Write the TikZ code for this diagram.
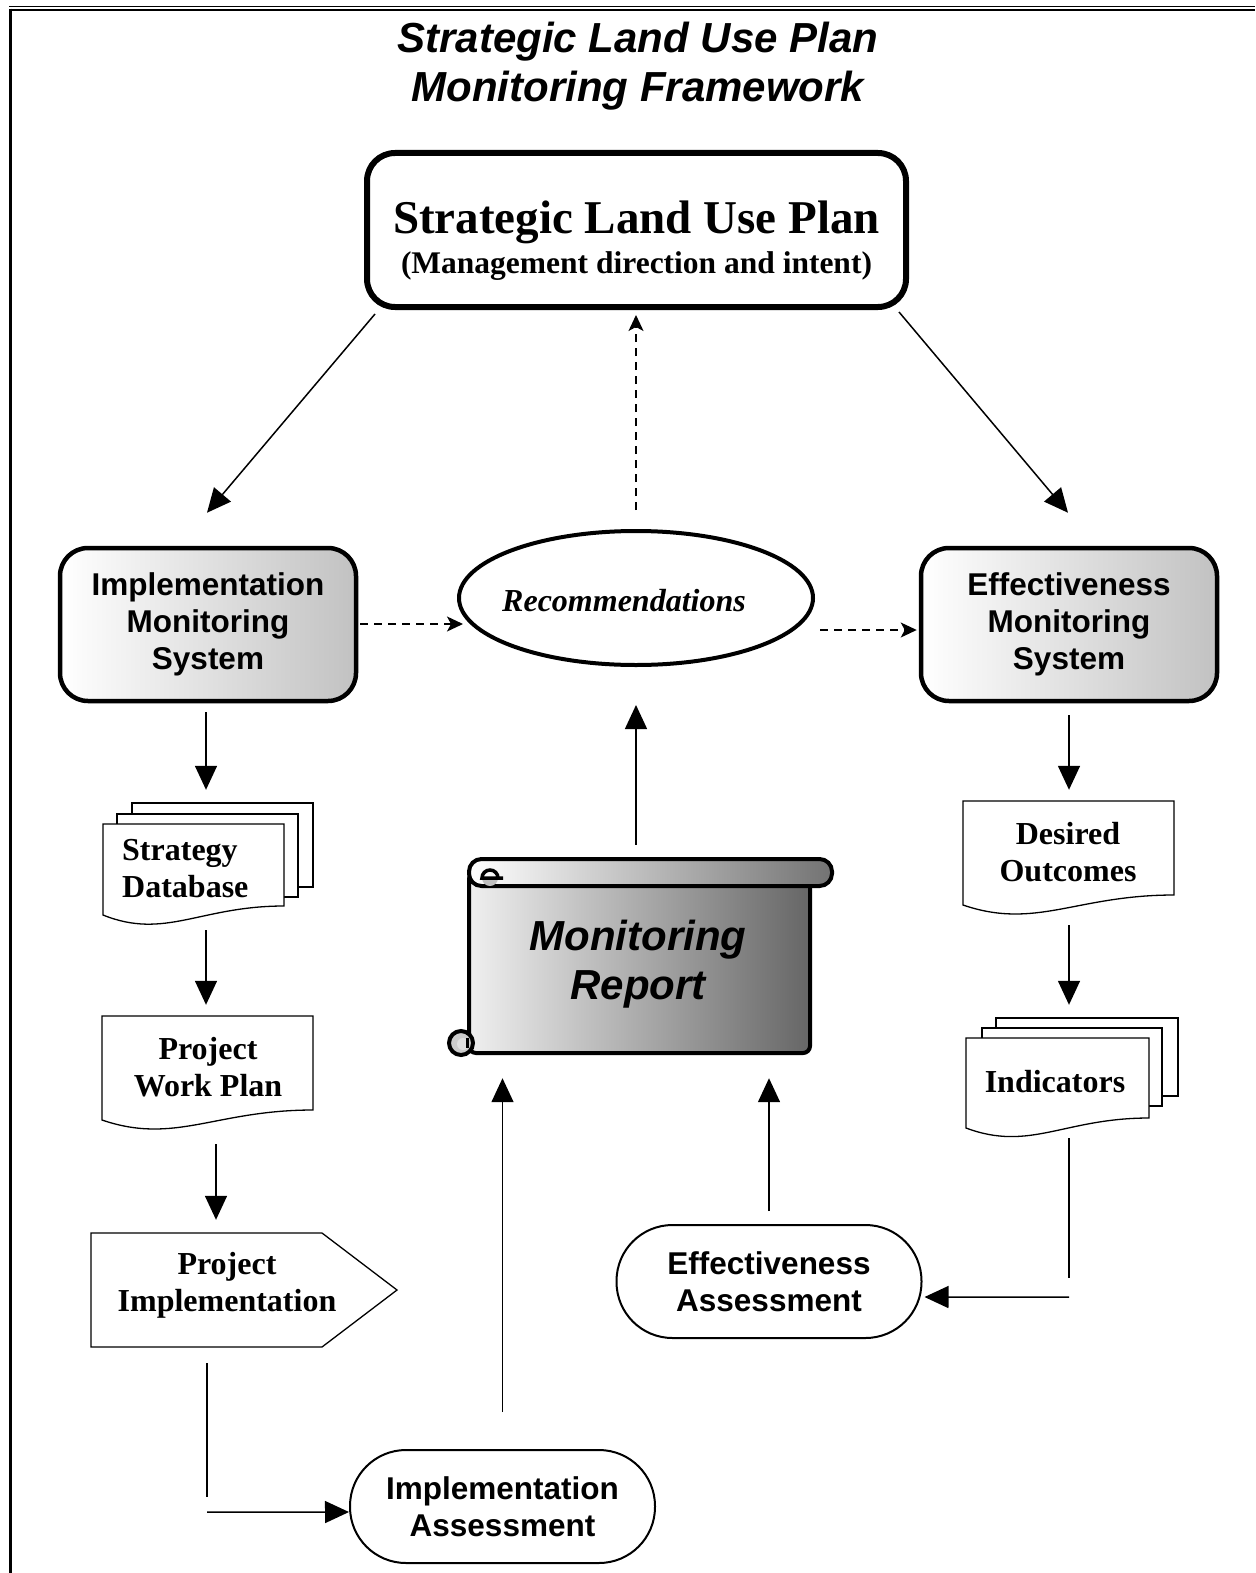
\documentclass[tikz,border=0pt]{standalone}
\usepackage{fontspec}
\setmainfont{Liberation Serif}
\setsansfont{Liberation Sans}
\usetikzlibrary{shapes.geometric,arrows.meta}
\newcommand\fsz[2]{\fontsize{#1}{#2}\selectfont}
\begin{document}
\begin{tikzpicture}[x=1pt,y=-1pt,
  line/.style={line width=1.5pt},
  tri/.style={line width=1.5pt,-{Triangle[length=24pt,width=22pt]}},
  dsh/.style={line width=1.4pt,dash pattern=on 8pt off 6pt,-{Stealth[length=16pt,width=15pt,inset=4pt]}},
  sysbox/.style={draw,rounded corners=28pt,line width=4.5pt,minimum width=296pt,minimum height=153pt,
     left color=white,right color=black!24,font=\sffamily\bfseries\fsz{31.5}{37},align=center,inner sep=0pt},
  assess/.style={draw,rounded corners=56pt,line width=2pt,minimum width=305pt,minimum height=113pt,
     fill=white,font=\sffamily\bfseries\fsz{31.5}{37},align=center,inner sep=0pt},
  area/.style={draw=none,inner sep=0pt},
  sertxt/.style={font=\bfseries\fsz{32}{37},align=center,inner sep=0pt},
  docline/.style={line width=1.3pt,fill=white},
]
\useasboundingbox (0,0) rectangle (1255,1573);
% frame
\draw[line width=1.7pt] (9,6.5) -- (1255,6.5);
\draw[line width=2.5pt] (9,10) -- (1255,10);
\draw[line width=3.3pt] (10.7,8.7) -- (10.7,1573);

% title
\node[font=\sffamily\bfseries\itshape\fsz{42}{49},align=center,inner sep=0pt] (title) at (638,66)
  {Strategic Land Use Plan\\Monitoring Framework};

% strategic land use plan box
\node[draw,rounded corners=28pt,line width=6pt,minimum width=539pt,minimum height=154pt,inner sep=0pt] (slup) at (636.5,230) {};
\node[font=\bfseries\fsz{47}{50},inner sep=0pt] (slupa) at (636.5,222) {Strategic Land Use Plan};
\node[font=\bfseries\fsz{31.5}{34},inner sep=0pt] (slupb) at (636.5,266) {(Management direction and intent)};

% systems
\node[sysbox] (ims) at (208,624.5) {Implementation\\Monitoring\\System};
\node[sysbox] (ems) at (1069,624.5) {Effectiveness\\Monitoring\\System};

% recommendations
\node[draw,ellipse,line width=4pt,minimum width=354pt,minimum height=134pt,inner sep=0pt] (rec) at (636,598) {};
\node[font=\bfseries\itshape\fsz{32}{36},inner sep=0pt] (rect) at (624,601) {Recommendations};

% Strategy Database (stacked document)
\filldraw[docline] (132,803) rectangle (313,887);
\filldraw[docline] (117,814) rectangle (298,897);
\filldraw[docline] (103,824) -- (284,824) -- (284,906) .. controls (200,906) and (165,940) .. (103,915) -- cycle;
\node[area,minimum width=210pt,minimum height=125pt] (sdb) at (208,865.5) {};
\node[font=\bfseries\fsz{32}{37},align=left,anchor=west,inner sep=0pt] (sdbt) at (122,869) {Strategy\\Database};

% Project Work Plan (document)
\filldraw[docline] (102,1016) -- (313,1016) -- (313,1110) .. controls (215,1110) and (175,1145) .. (102,1120) -- cycle;
\node[area,minimum width=211pt,minimum height=116pt] (pwp) at (207.5,1074) {};
\node[sertxt] (pwpt) at (208,1067) {Project\\Work Plan};

% Project Implementation (pentagon)
\filldraw[docline] (91,1233) -- (322,1233) -- (397,1290) -- (322,1347) -- (91,1347) -- cycle;
\node[area,minimum width=306pt,minimum height=114pt] (pi) at (244,1290) {};
\node[sertxt] (pit) at (227,1285) {Project\\Implementation};

% Desired Outcomes (document)
\filldraw[docline] (963,801) -- (1174,801) -- (1174,895) .. controls (1076,895) and (1036,930) .. (963,905) -- cycle;
\node[area,minimum width=211pt,minimum height=114pt] (dout) at (1068.5,858) {};
\node[sertxt] (doutt) at (1068,852) {Desired\\Outcomes};

% Indicators (stacked document)
\filldraw[docline] (996,1018) rectangle (1178,1096);
\filldraw[docline] (982,1028) rectangle (1162,1106);
\filldraw[docline] (966,1038) -- (1149,1038) -- (1149,1118) .. controls (1064,1118) and (1030,1152) .. (966,1128) -- cycle;
\node[area,minimum width=212pt,minimum height=122pt] (ind) at (1072,1079) {};
\node[sertxt] (indt) at (1055,1082) {Indicators};

% Monitoring Report (scroll)
\filldraw[line width=4pt,left color=black!6,right color=black!60,rounded corners=7pt] (469,872) rectangle (810,1053);
% bottom-left curl
\filldraw[line width=4pt,fill=black!20] (461,1043) circle (12);
\fill[black!12] (463,1044) circle (6);
\draw[line width=3pt] (467,1038) -- (467,1048);
% top roll
\filldraw[line width=4pt,left color=white,right color=black!55,rounded corners=12.5pt] (469,859) rectangle (832,886);
% top-left curl
\fill[black!25] (482,878) arc[start angle=180,end angle=0,radius=8] -- cycle;
\draw[line width=3.5pt] (503,878) -- (482,878) arc[start angle=-180,end angle=0,radius=8];
\node[area,minimum width=390pt,minimum height=195pt] (mr) at (637,955) {};
\node[font=\sffamily\bfseries\itshape\fsz{42}{49},align=center,inner sep=0pt] (mrt) at (638,964) {Monitoring\\Report};

% assessments
\node[assess] (ia) at (502.5,1506.5) {Implementation\\Assessment};
\node[assess] (ea) at (769,1281.5) {Effectiveness\\Assessment};

% connectors
\draw[tri] ([shift={(11,4)}]slup.south west) -- ([shift={(-1,-33)}]ims.north);
\draw[tri] ([shift={(-10,2)}]slup.south east) -- ([shift={(-1,-33)}]ems.north);
\draw[dsh] ([shift={(0,-19)}]rec.north) -- ([shift={(-0.5,5)}]slup.south);
\draw[dsh] ([shift={(2,-0.5)}]ims.east) -- ([shift={(6,26)}]rec.west);
\draw[dsh] ([shift={(5,32)}]rec.east) -- ([shift={(-2,5.5)}]ems.west);
\draw[tri] ([shift={(-1,-12.5)}]mr.north) -- ([shift={(0,38)}]rec.south);
\draw[tri] ([shift={(-2,9)}]ims.south) -- ([shift={(-2,-13)}]sdb.north);
\draw[tri] ([shift={(-2,2)}]sdb.south) -- ([shift={(-1.5,-11)}]pwp.north);
\draw[tri] ([shift={(8.5,12)}]pwp.south) -- ([shift={(-28,-13)}]pi.north);
\draw[line] ([shift={(-37,16)}]pi.south) -- ([shift={(-37,150)}]pi.south);
\draw[tri] ([shift={(-37,165)}]pi.south) -- ([shift={(0,5.5)}]ia.west);
\draw[tri] ([shift={(0,-37)}]ia.north) -- ([shift={(-134.5,25.5)}]mr.south);
\draw[tri] ([shift={(0,-13)}]ea.north) -- ([shift={(132,25.5)}]mr.south);
\draw[tri] ([shift={(0,12)}]ems.south) -- ([shift={(0.5,-11)}]dout.north);
\draw[tri] ([shift={(0.5,10)}]dout.south) -- ([shift={(-3,-13)}]ind.north);
\draw[line] ([shift={(-3,-2)}]ind.south) -- ([shift={(-3,138)}]ind.south);
\draw[tri] ([shift={(-3,157)}]ind.south) -- ([shift={(2,15.5)}]ea.east);
\end{tikzpicture}
\end{document}
